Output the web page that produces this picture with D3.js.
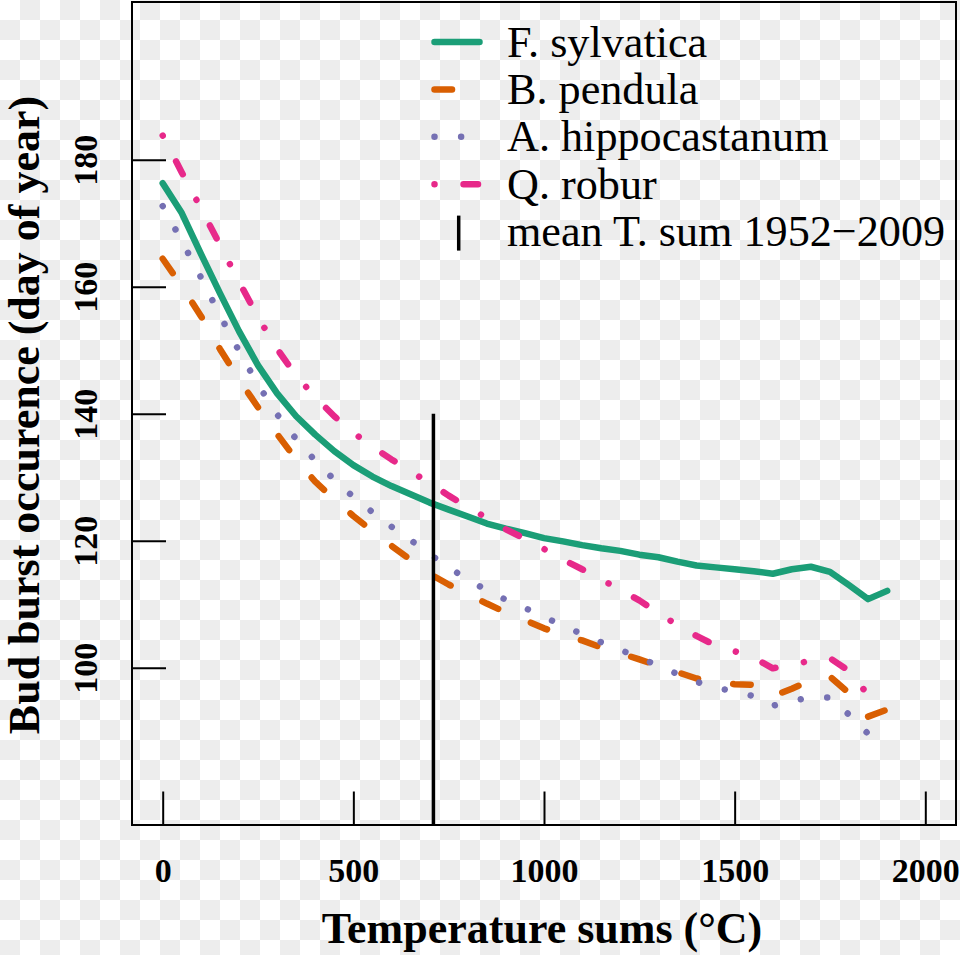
<!DOCTYPE html>
<html>
<head>
<meta charset="utf-8">
<script src="https://cdn.jsdelivr.net/npm/d3@7"></script>
<style>
  body { margin: 0; padding: 0; }
  svg { display: block; font-family: "Liberation Serif", "Times New Roman", serif; }
</style>
</head>
<body>
<svg id="chart" width="960" height="955"></svg>
<script>
// ---------- data ----------
const tempSums = [0,50,100,150,200,250,300,350,400,450,500,550,600,650,700,750,800,850,900,950,
                  1000,1050,1100,1150,1200,1250,1300,1350,1400,1450,1500,1550,1600,1650,1700,1750,1800,1850,1900];

const fSylvatica = [176.3,171.6,165.2,159.0,153.0,147.6,143.2,139.6,136.7,134.1,131.9,130.1,128.6,127.3,126.0,124.9,123.8,122.7,121.9,121.2,
                    120.4,119.9,119.3,118.8,118.4,117.8,117.4,116.7,116.1,115.8,115.5,115.2,114.8,115.5,115.9,115.1,113.0,110.8,112.1];

const bPendula = [164.4,160.1,155.4,150.2,145.4,141.0,136.8,132.8,129.3,126.5,123.9,121.5,119.2,117.0,114.8,113.1,111.6,110.1,108.7,107.5,
                  106.2,105.2,104.3,103.2,102.3,101.3,100.3,99.3,98.3,97.8,97.4,97.3,95.5,96.7,98.0,98.6,96.0,92.3,93.4];

const aHippocastanum = [172.7,167.2,161.5,155.5,149.9,144.6,139.9,136.0,132.6,129.6,126.9,124.5,122.2,120.1,117.9,115.8,113.9,112.2,110.7,109.4,
                        108.0,106.6,105.3,104.0,102.8,101.6,100.3,99.0,97.8,96.8,96.3,95.5,94.0,94.8,95.3,95.3,92.6,89.6,89.1];

const qRobur = [183.8,178.0,172.4,166.6,160.8,155.2,150.2,146.0,142.6,139.6,137.0,134.8,132.8,130.9,129.1,127.1,125.3,123.6,121.8,120.3,
                118.7,117.0,115.5,113.9,112.3,110.6,108.6,106.7,105.0,103.5,102.6,101.6,99.9,100.5,101.1,101.5,99.5,95.7];

const meanTSum = 710;
const meanTSumTop = 140;

const xTicks = [0, 500, 1000, 1500, 2000];
const yTicks = [100, 120, 140, 160, 180];

const seriesNames = ["F. sylvatica", "B. pendula", "A. hippocastanum", "Q. robur"];
const meanLabel = "mean T. sum 1952\u22122009";
const xTitle = "Temperature sums (\u00B0C)";
const yTitle = "Bud burst occurence (day of year)";

// ---------- layout ----------
const svg = d3.select("#chart");
const W = 960, H = 955;
const box = { left: 132, top: 2, right: 956, bottom: 825 };

// checkerboard background
const defs = svg.append("defs");
const pat = defs.append("pattern").attr("id", "checker")
  .attr("width", 40).attr("height", 40).attr("patternUnits", "userSpaceOnUse");
pat.append("rect").attr("width", 40).attr("height", 40).attr("fill", "#ffffff");
pat.append("rect").attr("x", 20).attr("y", 0).attr("width", 20).attr("height", 20).attr("fill", "#ededed");
pat.append("rect").attr("x", 0).attr("y", 20).attr("width", 20).attr("height", 20).attr("fill", "#ededed");
svg.append("rect").attr("width", W).attr("height", H).attr("fill", "url(#checker)");

const x = d3.scaleLinear().domain([0, 2000]).range([162.7, 925.3]);
const y = d3.scaleLinear().domain([100, 180]).range([667.7, 159.7]);

const styles = [
  { color: "#1B9E77", dash: null },
  { color: "#D95F02", dash: "17.5,35.5" },
  { color: "#7570B3", dash: "0.01,26.6" },
  { color: "#E7298A", dash: "0.01,29,14.5,29" }
];
const seriesVals = [fSylvatica, bPendula, aHippocastanum, qRobur];

const line = d3.line().x(d => x(d[0])).y(d => y(d[1]));

seriesVals.forEach((vals, i) => {
  const pts = vals.map((v, j) => [tempSums[j], v]);
  svg.append("path")
    .datum(pts)
    .attr("d", line)
    .attr("fill", "none")
    .attr("stroke", styles[i].color)
    .attr("stroke-width", 6.5)
    .attr("stroke-linecap", "round")
    .attr("stroke-linejoin", "round")
    .attr("stroke-dasharray", styles[i].dash);
});

// mean temperature sum line
svg.append("line")
  .attr("x1", x(meanTSum)).attr("x2", x(meanTSum))
  .attr("y1", y(meanTSumTop)).attr("y2", box.bottom)
  .attr("stroke", "#000").attr("stroke-width", 3.5);

// axes (ticks point inward)
const xAxis = svg.append("g")
  .attr("transform", `translate(0,${box.bottom})`)
  .call(d3.axisBottom(x).tickValues(xTicks).tickSize(-33.5).tickPadding(33).tickFormat(d3.format("d")));
xAxis.select(".domain").remove();
xAxis.selectAll("line").attr("stroke", "#000").attr("stroke-width", 2);
xAxis.selectAll("text")
  .attr("fill", "#000")
  .style("font-family", "'Liberation Serif', serif")
  .style("font-size", "34px").style("font-weight", "bold");

const yAxis = svg.append("g")
  .attr("transform", `translate(${box.left},0)`)
  .call(d3.axisLeft(y).tickValues(yTicks).tickSize(-34).tickFormat(d3.format("d")));
yAxis.select(".domain").remove();
yAxis.selectAll("line").attr("stroke", "#000").attr("stroke-width", 2);
yAxis.selectAll("text")
  .attr("x", null).attr("dy", null)
  .attr("text-anchor", "middle")
  .attr("transform", `translate(${96.5 - box.left},0) rotate(-90)`)
  .attr("fill", "#000")
  .style("font-family", "'Liberation Serif', serif")
  .style("font-size", "34px").style("font-weight", "bold");

// frame
svg.append("rect")
  .attr("x", box.left).attr("y", box.top)
  .attr("width", box.right - box.left).attr("height", box.bottom - box.top)
  .attr("fill", "none").attr("stroke", "#000").attr("stroke-width", 2);

// axis titles
svg.append("text")
  .attr("x", 542).attr("y", 943)
  .attr("text-anchor", "middle")
  .style("font-size", "44px").style("font-weight", "bold")
  .text(xTitle);

svg.append("text")
  .attr("transform", "translate(39,415) rotate(-90)")
  .attr("text-anchor", "middle")
  .style("font-size", "44px").style("font-weight", "bold")
  .text(yTitle);

// legend
const legRowY = [42, 89.4, 136.8, 184.2, 231.6];
const legX1 = 434.5, legX2 = 479.5, legTextX = 507;
seriesNames.forEach((name, i) => {
  svg.append("line")
    .attr("x1", legX1).attr("x2", legX2)
    .attr("y1", legRowY[i]).attr("y2", legRowY[i])
    .attr("stroke", styles[i].color).attr("stroke-width", 6.5)
    .attr("stroke-linecap", "round")
    .attr("stroke-dasharray", styles[i].dash);
  svg.append("text")
    .attr("x", legTextX).attr("y", legRowY[i] + 14.5)
    .style("font-size", "44.2px")
    .text(name);
});
svg.append("line")
  .attr("x1", 458.7).attr("x2", 458.7)
  .attr("y1", legRowY[4] - 16).attr("y2", legRowY[4] + 19)
  .attr("stroke", "#000").attr("stroke-width", 3.5);
svg.append("text")
  .attr("x", legTextX).attr("y", legRowY[4] + 14.5)
  .style("font-size", "44.2px")
  .text(meanLabel);
</script>
</body>
</html>
